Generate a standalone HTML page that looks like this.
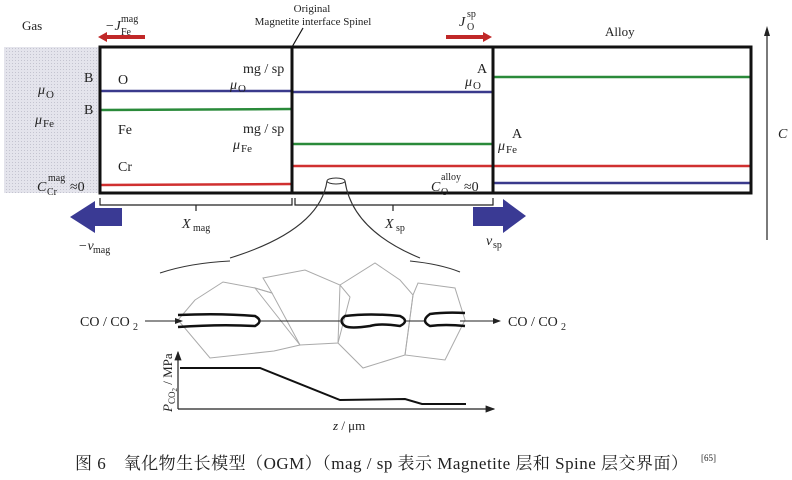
<!DOCTYPE html>
<html><head><meta charset="utf-8"><style>
html,body{margin:0;padding:0;background:#fff}
svg{display:block}
text{font-family:"Liberation Serif","Noto Serif CJK SC",serif;fill:#222}
.i{font-style:italic}
</style></head><body>
<svg width="792" height="480" viewBox="0 0 792 480" xmlns="http://www.w3.org/2000/svg">
<defs>
<pattern id="dots" width="3" height="3" patternUnits="userSpaceOnUse"><rect width="3" height="3" fill="#e4e4ec"/><rect width="1" height="1" fill="#c4c4d0"/></pattern>
<marker id="ah" markerWidth="8" markerHeight="6" refX="7" refY="3" orient="auto"><path d="M0,0 L8,3 L0,6 Z" fill="#222"/></marker>
</defs>
<rect x="4" y="47" width="96" height="146" fill="url(#dots)"/>
<g stroke-width="2.5">
<line x1="100" y1="91" x2="292" y2="91" stroke="#3a3a8c"/>
<line x1="100" y1="110" x2="292" y2="109" stroke="#2a8a3a"/>
<line x1="100" y1="185" x2="292" y2="184" stroke="#d03030"/>
<line x1="292" y1="92" x2="493" y2="92" stroke="#3a3a8c"/>
<line x1="292" y1="144" x2="493" y2="144" stroke="#2a8a3a"/>
<line x1="292" y1="166" x2="493" y2="166" stroke="#d03030"/>
<line x1="493" y1="77" x2="750" y2="77" stroke="#2a8a3a"/>
<line x1="493" y1="166" x2="750" y2="166" stroke="#d03030"/>
<line x1="493" y1="183" x2="750" y2="183" stroke="#3a3a8c"/>
</g>
<rect x="100" y="47" width="651" height="146" fill="none" stroke="#111" stroke-width="3"/>
<line x1="292" y1="47" x2="292" y2="193" stroke="#111" stroke-width="3"/>
<line x1="493" y1="47" x2="493" y2="193" stroke="#111" stroke-width="3"/>
<line x1="292" y1="47" x2="303" y2="28" stroke="#111" stroke-width="1.2"/>
<text x="22" y="30" font-size="13">Gas</text>
<text x="105" y="30" font-size="14" class="i">−J</text><text x="121" y="35" font-size="10">Fe</text><text x="121" y="22" font-size="10">mag</text>
<path d="M145,37 L106,37" stroke="#c02828" stroke-width="4"/><path d="M98,37 L107,32 L107,42 Z" fill="#c02828"/>
<text x="312" y="12" font-size="11" text-anchor="middle">Original</text>
<text x="313" y="25" font-size="11" text-anchor="middle">Magnetite interface Spinel</text>
<text x="459" y="26" font-size="14" class="i">J</text><text x="467" y="30" font-size="10">O</text><text x="467" y="17" font-size="10">sp</text>
<path d="M446,37 L485,37" stroke="#c02828" stroke-width="4"/><path d="M492,37 L483,32 L483,42 Z" fill="#c02828"/>
<text x="605" y="36" font-size="13">Alloy</text>
<line x1="767" y1="240" x2="767" y2="32" stroke="#222" stroke-width="1.2"/><path d="M767,26 L764,36 L770,36 Z" fill="#222"/>
<text x="778" y="138" font-size="14" class="i">C</text>
<text x="84" y="82" font-size="14">B</text>
<text x="84" y="114" font-size="14">B</text>
<text x="38" y="94" font-size="14" class="i">μ</text><text x="46" y="98" font-size="11">O</text>
<text x="35" y="124" font-size="14" class="i">μ</text><text x="43" y="127" font-size="11">Fe</text>
<text x="118" y="84" font-size="14">O</text>
<text x="118" y="134" font-size="14">Fe</text>
<text x="118" y="171" font-size="14">Cr</text>
<text x="37" y="191" font-size="14" class="i">C</text><text x="47" y="195" font-size="10">Cr</text><text x="48" y="181" font-size="10">mag</text><text x="70" y="191" font-size="14">≈0</text>
<text x="243" y="73" font-size="14">mg / sp</text>
<text x="230" y="89" font-size="14" class="i">μ</text><text x="238" y="92" font-size="11">O</text>
<text x="243" y="133" font-size="14">mg / sp</text>
<text x="233" y="149" font-size="14" class="i">μ</text><text x="241" y="152" font-size="11">Fe</text>
<text x="477" y="73" font-size="14">A</text>
<text x="465" y="86" font-size="14" class="i">μ</text><text x="473" y="89" font-size="11">O</text>
<text x="512" y="138" font-size="14">A</text>
<text x="498" y="150" font-size="14" class="i">μ</text><text x="506" y="153" font-size="11">Fe</text>
<text x="431" y="191" font-size="14" class="i">C</text><text x="441" y="195" font-size="10">O</text><text x="441" y="180" font-size="10">alloy</text><text x="464" y="191" font-size="14">≈0</text>
<path d="M100,198 V205 H292 V198 M196,205 V211" fill="none" stroke="#222" stroke-width="1.2"/>
<path d="M295,198 V205 H493 V198 M393,205 V211" fill="none" stroke="#222" stroke-width="1.2"/>
<text x="182" y="228" font-size="14" class="i">X</text><text x="193" y="231" font-size="10">mag</text>
<text x="385" y="228" font-size="14" class="i">X</text><text x="396" y="231" font-size="10">sp</text>
<path d="M122,208 L95,208 L95,201 L70,217 L95,233 L95,226 L122,226 Z" fill="#3a3a94"/>
<path d="M473,207 L503,207 L503,199 L526,216 L503,233 L503,226 L473,226 Z" fill="#3a3a94"/>
<text x="78" y="250" font-size="14" class="i">−v</text><text x="93" y="253" font-size="10">mag</text>
<text x="486" y="245" font-size="14" class="i">v</text><text x="493" y="248" font-size="10">sp</text>
<ellipse cx="336" cy="181" rx="9" ry="3" fill="#fff" stroke="#333"/>
<path d="M327,181 Q320,230 230,258" fill="none" stroke="#333" stroke-width="1.1"/>
<path d="M345,181 Q352,230 420,258" fill="none" stroke="#333" stroke-width="1.1"/>
<path d="M160,273 Q190,263 230,261" fill="none" stroke="#333" stroke-width="1.1"/>
<path d="M410,261 Q440,264 460,272" fill="none" stroke="#333" stroke-width="1.1"/>
<g fill="none" stroke="#aaa" stroke-width="1">
<path d="M195,300 L223,282 L255,288 L272,293 L300,345 L274,351 L210,358 L178,320 Z"/>
<path d="M255,288 L272,293 L263,278 L305,270 L340,285 L350,297 L338,343 L300,345 Z"/>
<path d="M340,285 L375,263 L400,280 L413,295 L405,355 L363,368 L338,343 Z"/>
<path d="M413,295 L418,283 L455,288 L465,320 L445,360 L405,355 Z"/>
</g>
<text x="80" y="326" font-size="14">CO / CO</text><text x="133" y="330" font-size="10">2</text>
<line x1="145" y1="321" x2="182" y2="321" stroke="#222" stroke-width="1" marker-end="url(#ah)"/>
<line x1="260" y1="321" x2="340" y2="321" stroke="#222" stroke-width="1"/>
<line x1="405" y1="321" x2="425" y2="321" stroke="#222" stroke-width="1"/>
<line x1="460" y1="321" x2="500" y2="321" stroke="#222" stroke-width="1" marker-end="url(#ah)"/>
<g fill="none" stroke="#111" stroke-width="2.5">
<path d="M178,315 Q220,313 255,316 Q264,321 255,326 Q220,324 178,327"/>
<path d="M345,316 Q370,313 400,316 Q410,321 400,326 Q380,323 370,326 Q350,329 345,326 Q338,321 345,316 Z"/>
<path d="M465,313 Q445,312 430,314 Q420,321 430,326 Q445,324 465,326"/>
</g>
<text x="508" y="326" font-size="14">CO / CO</text><text x="561" y="330" font-size="10">2</text>
<line x1="178" y1="409" x2="178" y2="352" stroke="#222" stroke-width="1.2" marker-end="url(#ah)"/>
<line x1="178" y1="409" x2="494" y2="409" stroke="#222" stroke-width="1.2" marker-end="url(#ah)"/>
<path d="M180,368 L260,368 L340,400 L405,399 L422,404 L466,404" fill="none" stroke="#111" stroke-width="2"/>
<text transform="translate(172,412) rotate(-90)" font-size="13"><tspan class="i">P</tspan><tspan font-size="9" dy="3">CO</tspan><tspan font-size="7" dy="2">2</tspan><tspan dy="-5"> / MPa</tspan></text>
<text x="333" y="430" font-size="13"><tspan class="i">z</tspan> / μm</text>
<text x="75" y="469" font-size="17" textLength="613" lengthAdjust="spacing">图 6　氧化物生长模型（OGM）（mag / sp 表示 Magnetite 层和 Spine 层交界面）</text>
<text x="701" y="461" font-size="9">[65]</text>
</svg>
</body></html>
